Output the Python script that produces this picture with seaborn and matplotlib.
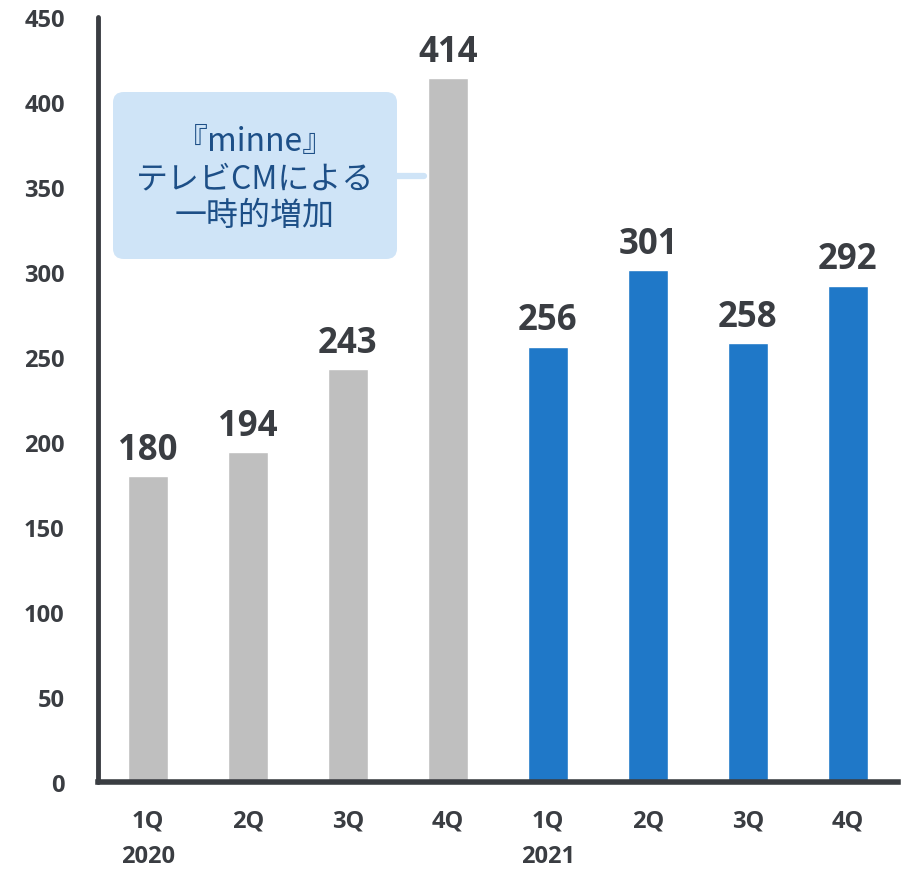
import matplotlib
matplotlib.use("Agg")
import matplotlib.pyplot as plt
from matplotlib.patches import FancyBboxPatch
import seaborn as sns
import pandas as pd

quarters = ["1Q", "2Q", "3Q", "4Q", "1Q", "2Q", "3Q", "4Q"]
years = ["2020", "", "", "", "2021", "", "", ""]
values = [180, 194, 243, 414, 256, 301, 258, 292]
groups = ["2020", "2020", "2020", "2020", "2021", "2021", "2021", "2021"]
y_ticks = [0, 50, 100, 150, 200, 250, 300, 350, 400, 450]
note_text = "『minne』\nテレビCMによる\n一時的増加"

sns.set_theme(style="white")
plt.rcParams["font.family"] = ["Open Sans", "Noto Sans CJK JP", "DejaVu Sans"]

GRAY = "#bfbfbf"
BLUE = "#1f78c8"
DARK = "#3a3d42"

df = pd.DataFrame({
    "pos": [str(i) for i in range(len(values))],
    "value": values,
    "group": groups,
})

fig = plt.figure(figsize=(9.04, 8.70), dpi=100)
ax = fig.add_axes([98 / 904, 87 / 870, 800 / 904, 765 / 870])

sns.barplot(data=df, x="pos", y="value", hue="group",
            palette={"2020": GRAY, "2021": BLUE}, width=0.4,
            dodge=False, legend=False, ax=ax, saturation=1)

ax.set_xlim(-0.5, len(values) - 0.5)
ax.set_ylim(0, 450)
ax.set_yticks(y_ticks)
ax.set_yticklabels([str(t) for t in y_ticks])
ax.set_xticks(range(len(values)))
ax.set_xticklabels([q + ("\n" + y if y else "") for q, y in zip(quarters, years)],
                   linespacing=1.65, va="top")
ax.set_xlabel("")
ax.set_ylabel("")

for lbl in ax.get_xticklabels() + ax.get_yticklabels():
    lbl.set_fontweight("bold")
    lbl.set_color(DARK)
    lbl.set_fontsize(17)

ax.tick_params(axis="x", length=0, pad=19)
ax.tick_params(axis="y", length=0, pad=24)
for lbl in ax.get_yticklabels():
    lbl.set_horizontalalignment("right")

for s in ["top", "right"]:
    ax.spines[s].set_visible(False)
ax.spines["left"].set_color(DARK)
ax.spines["left"].set_linewidth(3.5)
ax.spines["bottom"].set_color(DARK)
ax.spines["bottom"].set_linewidth(4)
ax.spines["left"].set_capstyle("round")

for i, v in enumerate(values):
    ax.annotate(str(v), (i, v), xytext=(0, 6), textcoords="offset points",
                ha="center", va="bottom", fontsize=25, fontweight="bold",
                color=DARK)

# callout box for the 4Q 2020 spike
box = FancyBboxPatch((113 / 904, 1 - 260 / 870), 284 / 904, 167 / 870,
                     boxstyle="round,pad=0,rounding_size=0.012",
                     transform=fig.transFigure, facecolor="#cfe4f7",
                     edgecolor="none", zorder=5)
fig.patches.append(box)
fig.add_artist(plt.Line2D([397 / 904, 424 / 904], [1 - 177 / 870, 1 - 177 / 870],
                          transform=fig.transFigure, color="#cfe4f7",
                          linewidth=4.5, solid_capstyle="round", zorder=4))
fig.text(255 / 904, 1 - 179 / 870, note_text, ha="center", va="center",
         fontsize=23, color="#1d4f87", linespacing=1.2, zorder=6,
         family=["Noto Sans CJK JP", "DejaVu Sans"])

fig.savefig("out.png", dpi=100)
